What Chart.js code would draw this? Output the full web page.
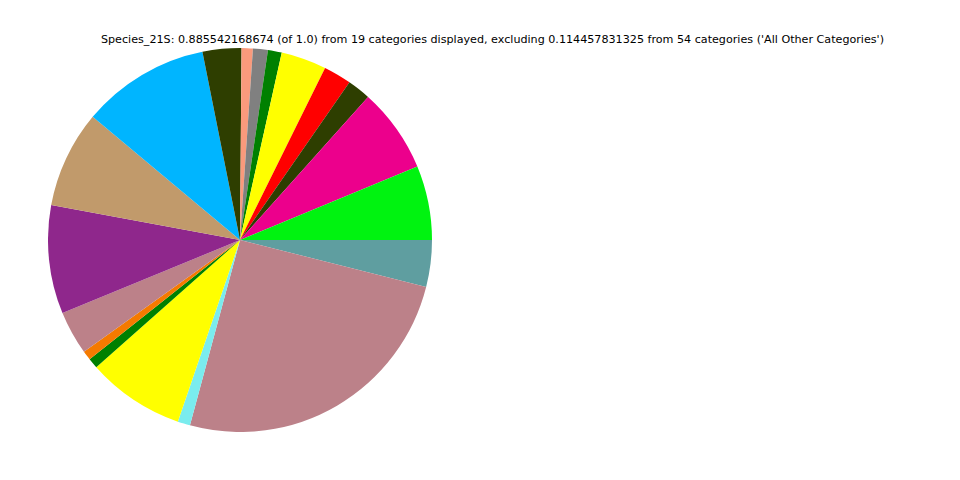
<!DOCTYPE html>
<html lang="en">
<head>
    <meta charset="UTF-8">
    <title>Species_21S</title>
    <style>
        body {
            margin: 0;
            width: 960px;
            height: 480px;
            background: #fff;
            position: relative;
            overflow: hidden;
            font-family: 'DejaVu Sans', sans-serif;
        }
        .title {
            position: absolute;
            left: 0;
            width: 985px;
            top: 33px;
            text-align: center;
            font-size: 11.15px;
            color: #000;
            white-space: nowrap;
        }
        .pie-box {
            position: absolute;
            left: 48px;
            top: 48px;
            width: 384px;
            height: 384px;
        }
    </style>
    <script src="https://cdn.jsdelivr.net/npm/chart.js"></script>
</head>
<body>
    <div class="title">Species_21S: 0.885542168674 (of 1.0) from 19 categories displayed, excluding 0.114457831325 from 54 categories ('All Other Categories')</div>
    <div class="pie-box"><canvas id="pieChart" width="384" height="384"></canvas></div>

    <script>
        // slices in drawing order, counterclockwise from 3 o'clock
        const categories = ['cat01', 'cat02', 'cat03', 'cat04', 'cat05', 'cat06', 'cat07', 'cat08', 'cat09', 'cat10',
            'cat11', 'cat12', 'cat13', 'cat14', 'cat15', 'cat16', 'cat17', 'cat18', 'cat19'];
        const values = [0.0554, 0.0631, 0.0174, 0.0208, 0.0338, 0.0103, 0.0111, 0.0084, 0.0289, 0.0955,
            0.0724, 0.0808, 0.0326, 0.0069, 0.0076, 0.0728, 0.0093, 0.2237, 0.0349];
        const colors = ['#00f310', '#ec008c', '#2e3e00', '#ff0000', '#ffff00', '#008000', '#808080', '#fa9a7c', '#2e3e00', '#00b5ff',
            '#c19a6b', '#8f278c', '#bc8189', '#f57a00', '#008000', '#ffff00', '#7aecee', '#bc8189', '#5f9ea0'];

        // matplotlib goes counterclockwise from east; Chart.js goes clockwise, so reverse
        const ctx = document.getElementById('pieChart');
        new Chart(ctx, {
            type: 'pie',
            data: {
                labels: categories.slice().reverse(),
                datasets: [{
                    data: values.slice().reverse(),
                    backgroundColor: colors.slice().reverse(),
                    borderWidth: 0
                }]
            },
            options: {
                responsive: false,
                animation: false,
                rotation: 90,
                layout: { padding: 0 },
                plugins: {
                    legend: { display: false },
                    tooltip: { enabled: false }
                }
            }
        });
    </script>
</body>
</html>
